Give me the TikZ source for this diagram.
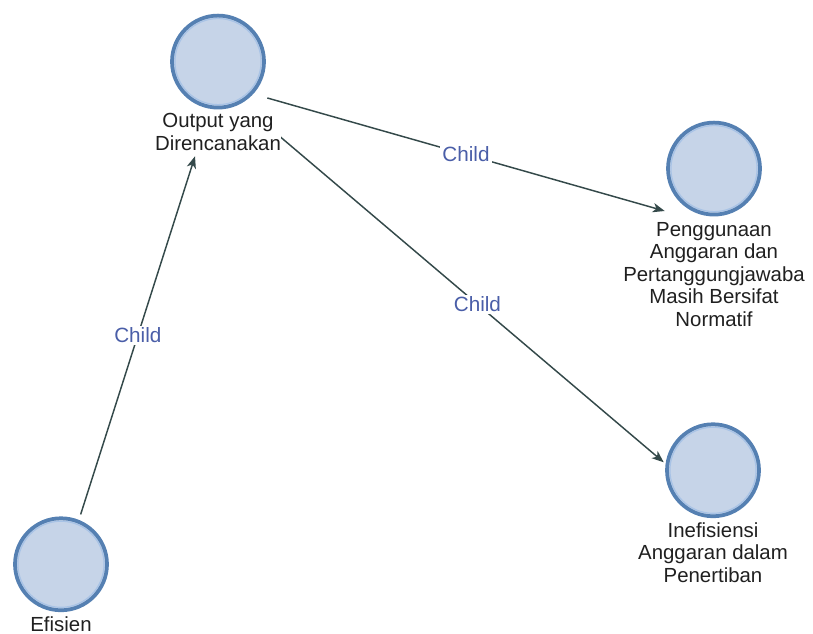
\documentclass[tikz,border=0pt]{standalone}
\usepackage{fontspec}
\setmainfont{Liberation Sans}
\usetikzlibrary{arrows.meta}
\definecolor{ringdark}{HTML}{5580B2}
\definecolor{ringlight}{HTML}{A8C3E6}
\definecolor{discfill}{HTML}{C6D4E8}
\definecolor{edgecol}{HTML}{34494A}
\definecolor{linkcol}{HTML}{4A5EA8}
\definecolor{textcol}{HTML}{202020}
\tikzset{
  nodebox/.style={rectangle, inner sep=0pt, minimum width=73.5pt},
  disc/.style={circle, draw=ringdark, fill=discfill, line width=2.8pt,
    minimum size=69pt, inner sep=0pt,
    path picture={\draw[ringlight, line width=0.9pt]
      (path picture bounding box.center) circle[radius=32.3pt];}},
  caption/.style={text=textcol, font=\fontsize{15.3}{16.9}\selectfont,
    align=center, inner sep=0pt, fill=white},
  link/.style={edgecol, line width=1.1pt,
    -{Stealth[length=9pt, width=7pt, inset=2.5pt]}},
  linklabel/.style={text=linkcol, font=\fontsize{15.5}{17}\selectfont,
    fill=white, inner sep=1.5pt}
}
\begin{document}
\begin{tikzpicture}[x=0.75pt, y=-0.75pt]
  \useasboundingbox (0,0) rectangle (813,634);

  % invisible boxes spanning each disc and its caption
  \node[nodebox, minimum height=108pt] (out) at (218,84) {};
  \node[nodebox, minimum height=159pt] (peng) at (714,225) {};
  \node[nodebox, minimum height=125pt] (inef) at (713,504) {};
  \node[nodebox, minimum height=92pt] (efis) at (61,576) {};

  % discs
  \node[disc, anchor=north] (outc) at ([yshift=-1.5pt]out.north) {};
  \node[disc, anchor=north] (pengc) at ([yshift=-1.5pt]peng.north) {};
  \node[disc, anchor=north] (inefc) at ([yshift=-1.5pt]inef.north) {};
  \node[disc, anchor=north] (efisc) at ([yshift=-1.5pt]efis.north) {};

  % connectors
  \draw[link] (out) -- node[linklabel] (l1) {Child} (peng);
  \draw[link] (out) -- node[linklabel, pos=0.53] (l2) {Child} (inef);
  \draw[link] (efis) -- node[linklabel] (l3) {Child} (out);

  % captions
  \node[caption, anchor=north] (outt) at ([yshift=-3pt]outc.south) {Output yang\\Direncanakan};
  \node[caption, anchor=north] (pengt) at ([yshift=-4pt]pengc.south) {Penggunaan\\Anggaran dan\\Pertanggungjawaba\\Masih Bersifat\\Normatif};
  \node[caption, anchor=north] (ineft) at ([yshift=-3pt]inefc.south) {Inefisiensi\\Anggaran dalam\\Penertiban};
  \node[caption, anchor=north] (efist) at ([yshift=-3pt]efisc.south) {Efisien};
\end{tikzpicture}
\end{document}
